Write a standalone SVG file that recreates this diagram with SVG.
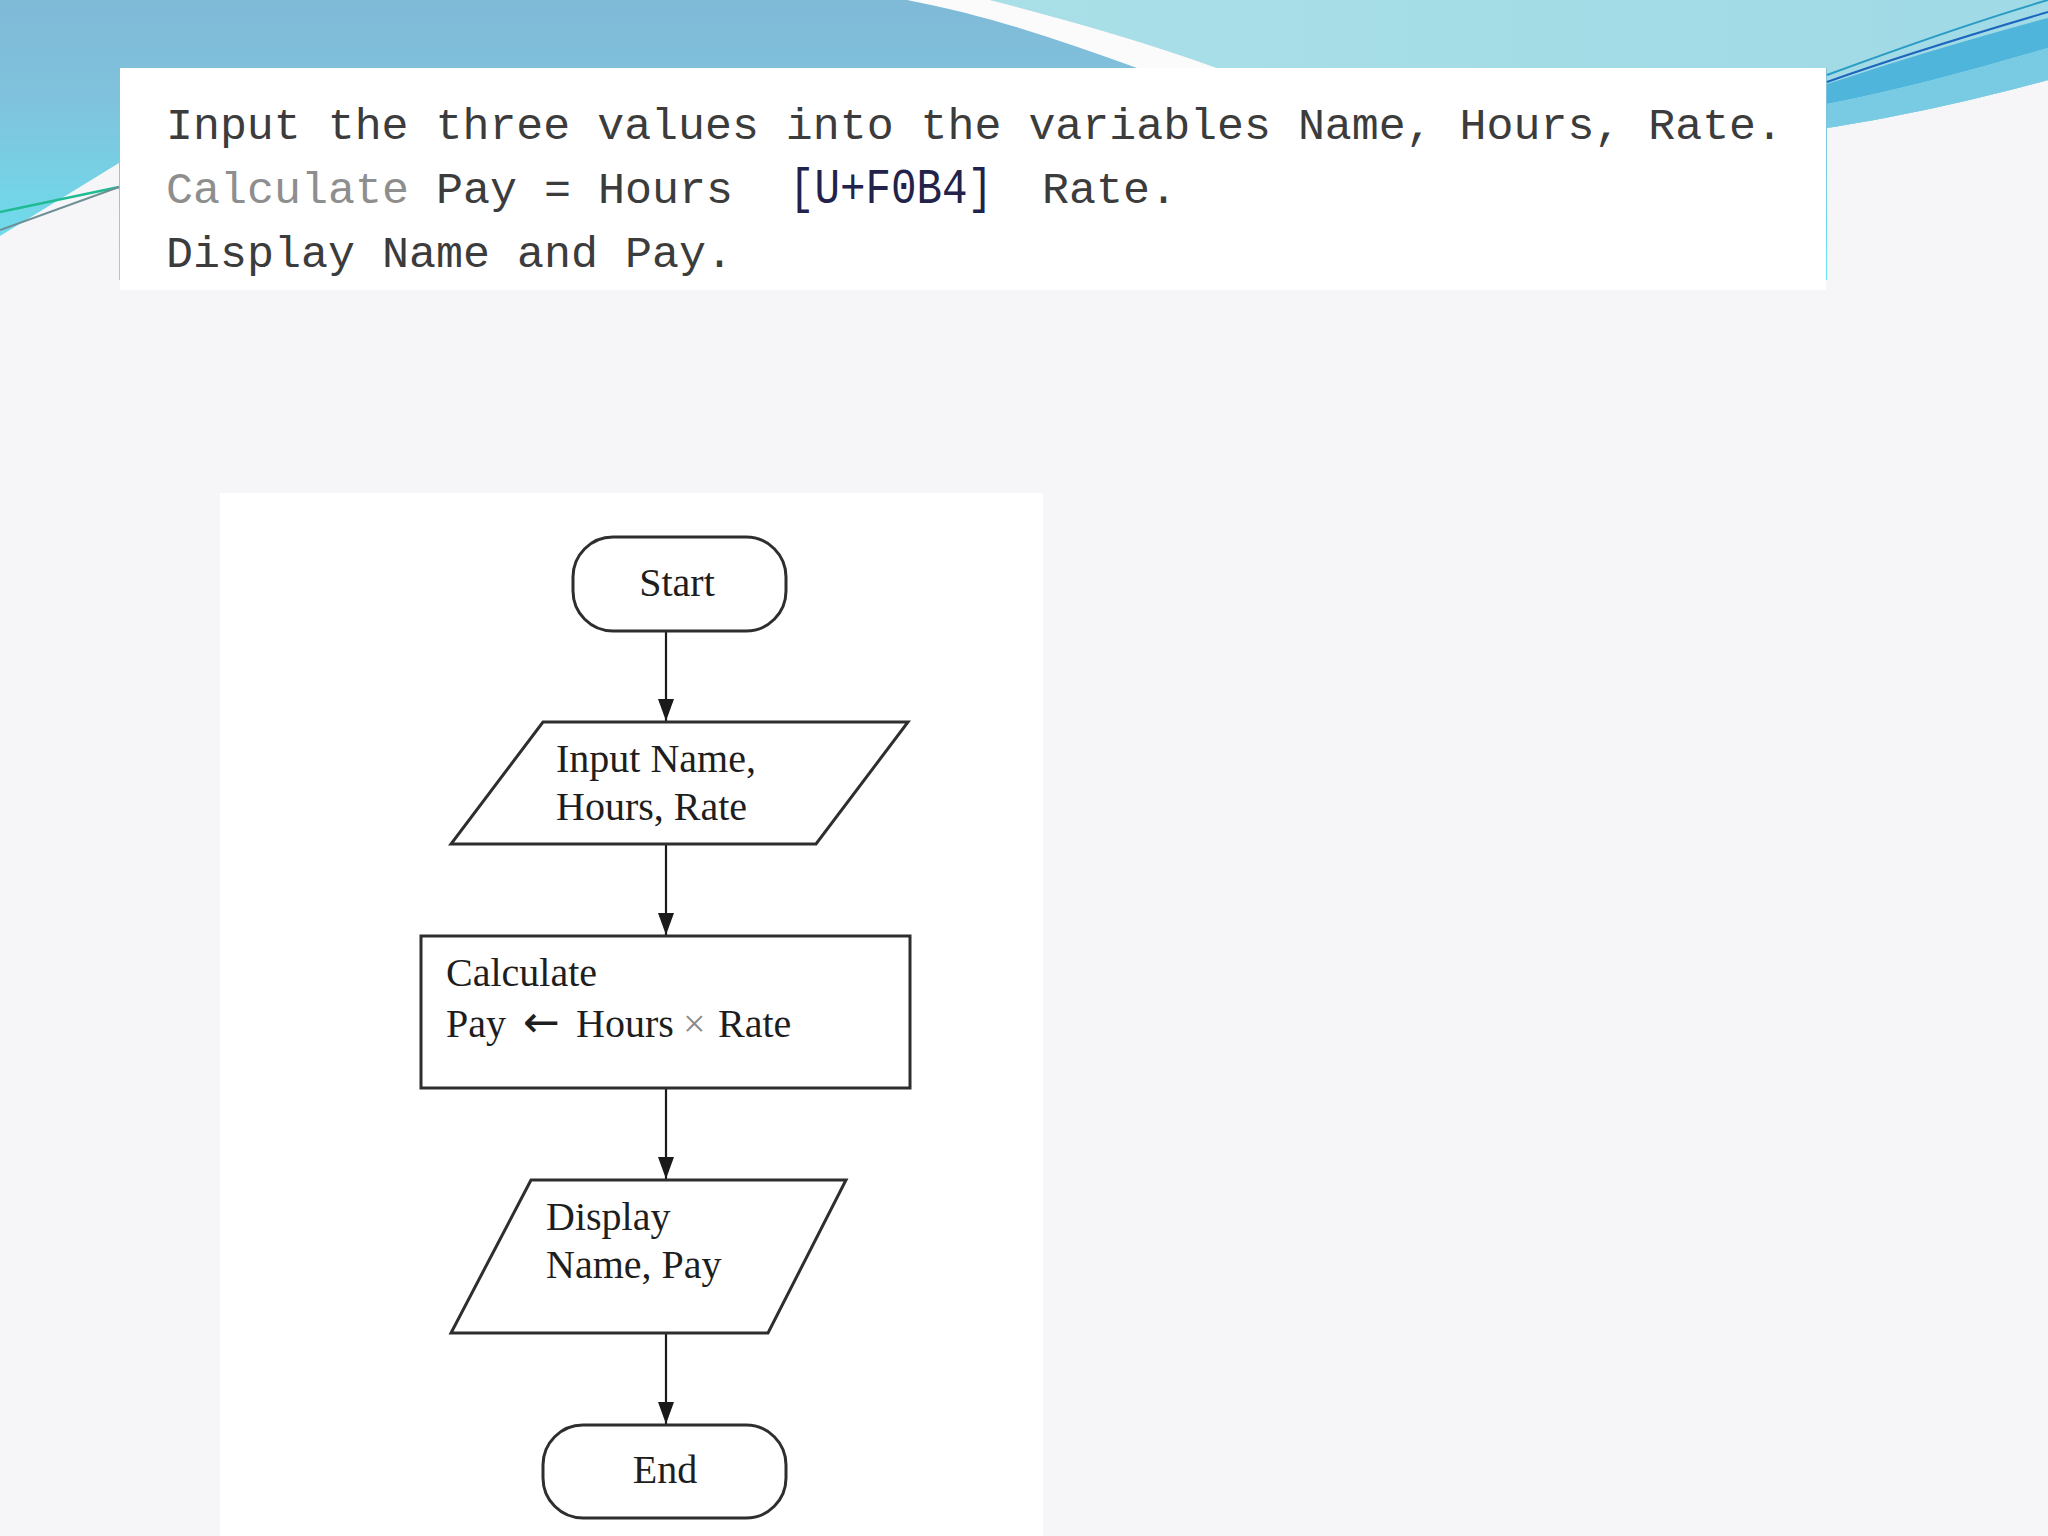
<svg xmlns="http://www.w3.org/2000/svg" width="2048" height="1536" viewBox="0 0 2048 1536">
  <defs>
    <linearGradient id="gLeft" x1="0" y1="0" x2="0" y2="1">
      <stop offset="0" stop-color="#7fbad7"/>
      <stop offset="0.35" stop-color="#80c2dd"/>
      <stop offset="1" stop-color="#6ae4f0"/>
    </linearGradient>
    <linearGradient id="gRight" x1="0" y1="0" x2="1" y2="0">
      <stop offset="0" stop-color="#a9dfe7"/>
      <stop offset="1" stop-color="#a0dae6"/>
    </linearGradient>
    <marker id="arrow" markerUnits="userSpaceOnUse" markerWidth="22" markerHeight="16" refX="22" refY="8" orient="auto" viewBox="0 0 22 16">
      <path d="M0,0 L22,8 L0,16 Z" fill="#1a1a1a"/>
    </marker>
    <style>
      .mono { font-family: "Liberation Mono", "DejaVu Sans Mono", monospace; font-size: 45px; fill: #3c3c3c; }
      .fc { font-family: "Liberation Serif", "DejaVu Serif", serif; font-size: 40px; fill: #1e1e1e; }
      .shape { fill: #ffffff; stroke: #2e2e2e; stroke-width: 3; }
      .conn { stroke: #1a1a1a; stroke-width: 2.2; fill: none; }
    </style>
  </defs>

  <!-- background -->
  <rect x="0" y="0" width="2048" height="1536" fill="#f6f6f8"/>

  <!-- top decorative band -->
  <g id="banner">
    <path d="M0,0 H2048 V80 C1960,104 1890,118 1827,128 L1827,280 L119,280 L119,163 L0,236 Z" fill="url(#gLeft)"/>
    <path d="M990,0 H2048 L2048,80 C1960,104 1890,118 1827,128 L1827,68 L1217,68 C1140,40 1060,18 990,0 Z" fill="url(#gRight)"/>
    <path d="M907,0 L990,0 C1060,18 1140,40 1217,68 L1137,68 C1060,40 990,16 907,0 Z" fill="#fbfbfc"/>
    <path d="M1827,84 C1900,60 1980,36 2048,18 L2048,48 C1980,68 1900,90 1827,104 Z" fill="#4fb5db"/>
    <path d="M1827,104 C1900,90 1980,68 2048,48 L2048,80 C1960,104 1890,118 1827,128 Z" fill="#78cbe3"/>
    <path d="M1827,75 C1900,48 1980,20 2048,0" stroke="#2a9cc4" stroke-width="2" fill="none"/>
    <path d="M1827,82 C1900,56 1980,32 2048,12" stroke="#1d66bf" stroke-width="2" fill="none"/>
    <path d="M0,212 L119,187" stroke="#1fbb92" stroke-width="2.5" fill="none"/>
    <path d="M0,230 L119,187" stroke="#6f8f96" stroke-width="2" fill="none"/>
  </g>

  <!-- text box -->
  <g id="description">
    <rect x="120" y="68" width="1706" height="222" fill="#ffffff"/>
    <text class="mono" x="166" y="139" textLength="1617" lengthAdjust="spacingAndGlyphs">Input the three values into the variables Name, Hours, Rate.</text>
    <text class="mono" y="203"><tspan x="166" fill="#8e8e8e">Calculate</tspan><tspan x="436">Pay = Hours</tspan><tspan x="789" fill="#22224a" font-size="50" textLength="204" lengthAdjust="spacingAndGlyphs">[U+F0B4]</tspan><tspan x="1042">Rate.</tspan></text>
    <text class="mono" x="166" y="267">Display Name and Pay.</text>
  </g>

  <!-- flowchart panel -->
  <rect x="220" y="493" width="823" height="1043" fill="#ffffff"/>

  <g id="connectors">
    <line class="conn" x1="666" y1="631" x2="666" y2="721" marker-end="url(#arrow)"/>
    <line class="conn" x1="666" y1="844" x2="666" y2="935" marker-end="url(#arrow)"/>
    <line class="conn" x1="666" y1="1088" x2="666" y2="1179" marker-end="url(#arrow)"/>
    <line class="conn" x1="666" y1="1333" x2="666" y2="1424" marker-end="url(#arrow)"/>
  </g>

  <g id="start">
    <rect class="shape" x="573" y="537" width="213" height="94" rx="40" ry="40"/>
    <text class="fc" x="677" y="596" text-anchor="middle">Start</text>
  </g>

  <g id="input">
    <polygon class="shape" points="543,722 908,722 816,844 451,844"/>
    <text class="fc" x="556" y="772">Input Name,</text>
    <text class="fc" x="556" y="820">Hours, Rate</text>
  </g>

  <g id="calculate">
    <rect class="shape" x="421" y="936" width="489" height="152"/>
    <text class="fc" x="446" y="986">Calculate</text>
    <text class="fc" y="1037"><tspan x="446">Pay</tspan><tspan x="523" font-family="DejaVu Sans, sans-serif" font-size="44">←</tspan><tspan x="576">Hours</tspan><tspan x="683" fill="#8a8a8a">×</tspan><tspan x="718">Rate</tspan></text>
  </g>

  <g id="display">
    <polygon class="shape" points="531,1180 846,1180 768,1333 451,1333"/>
    <text class="fc" x="546" y="1230">Display</text>
    <text class="fc" x="546" y="1278">Name, Pay</text>
  </g>

  <g id="end">
    <rect class="shape" x="543" y="1425" width="243" height="93" rx="40" ry="40"/>
    <text class="fc" x="665" y="1483" text-anchor="middle">End</text>
  </g>
</svg>
